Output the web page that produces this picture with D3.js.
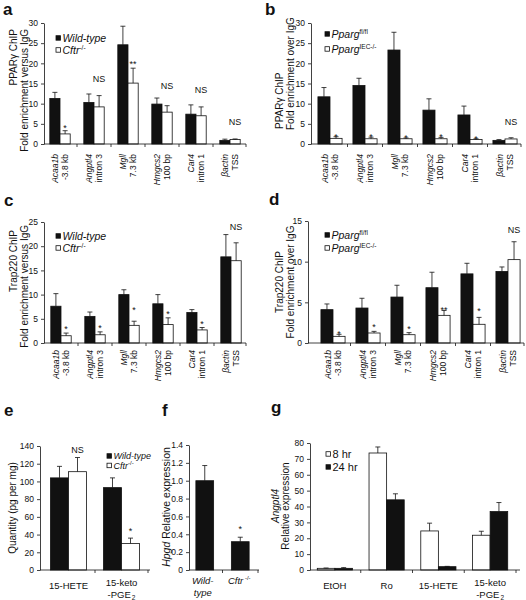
<!DOCTYPE html>
<html><head><meta charset="utf-8">
<script src="https://cdn.jsdelivr.net/npm/d3@7"></script>
<style>body{margin:0;background:#fff} svg{display:block}</style>
</head><body><svg id="fig" width="526" height="600"></svg>
<script>
// ---------------- data ----------------
const genes = ["Acaa1b","Angptl4","Mgll","Hmgcs2","Car4","βactin"];
const sites = ["-3.8 kb","intron 3","7.3 kb","100 bp","intron 1","TSS"];

const aTicks = [0,5,10,15,20,25,30];
const aWT = [11.3,10.3,24.6,9.9,7.4,0.9];
const aWTErr = [1.5,2.1,4.6,1.5,2.3,0.3];
const aKO = [2.5,9.2,15.1,7.9,7.0,1.1];
const aKOErr = [0.8,2.8,3.7,1.6,2.2,0.15];
const aSig = ["*","NS","**","NS","NS","NS"];
const aSigAt = [4.6,16.1,20.3,14.4,13.4,5.5];

const bTicks = [0,5,10,15,20,25,30];
const bFl = [11.7,14.5,23.3,8.4,7.2,0.9];
const bFlErr = [2.3,1.8,4.4,2.8,2.2,0.2];
const bIEC = [1.4,1.3,1.3,1.3,1.1,1.25];
const bIECErr = [0.4,0.4,0.2,0.35,0.2,0.3];
const bSig = ["*","*","*","*","*","NS"];
const bSigAt = [2.4,2.3,2.1,2.3,1.9,5.4];

const cTicks = [0,5,10,15,20,25];
const cWT = [7.6,5.5,10.0,8.1,6.3,17.8];
const cWTErr = [2.6,0.9,1.0,1.9,0.6,4.6];
const cKO = [1.5,1.7,3.65,3.8,2.7,17.0];
const cKOErr = [0.55,0.6,0.85,1.4,0.5,3.7];
const cSig = ["*","*","*","*","*","NS"];
const cSigAt = [3.3,3.5,7.2,6.4,4.5,24.0];

const dTicks = [0,5,10,15];
const dFl = [4.1,4.3,5.65,6.8,8.5,8.8];
const dFlErr = [0.7,1.2,1.45,1.9,1.3,0.55];
const dIEC = [0.82,1.23,1.02,3.4,2.3,10.25];
const dIECErr = [0.25,0.2,0.25,0.6,0.85,2.2];
const dSig = ["*","*","*","**","*","NS"];
const dSigAt = [1.4,2.2,2.0,4.4,4.2,13.9];

const eCats = ["15-HETE","15-keto"];
const eCats2 = ["","-PGE"];
const eTicks = [0,20,40,60,80,100,120,140];
const eWT = [104,93];
const eWTErr = [13,11];
const eKO = [111,30];
const eKOErr = [16,6];
const eSig = ["NS","*"];
const eSigAt = [135.4,46.3];

const fCats = ["Wild-","Cftr"];
const fCats2 = ["type",""];
const fTicks = [0,0.2,0.4,0.6,0.8,1.0,1.2,1.4];
const fVals = [1.0,0.317];
const fErr = [0.17,0.05];
const fSig = ["","*"];
const fSigAt = [0,0.485];

const gCats = ["EtOH","Ro","15-HETE","15-keto"];
const gCats2 = ["","","","-PGE"];
const gTicks = [0,10,20,30,40,50,60,70,80];
const g8 = [1.05,73.7,24.6,21.9];
const g8Err = [0.2,3.8,4.9,2.5];
const g24 = [1.05,44.2,2.1,36.8];
const g24Err = [0.45,3.8,0.2,5.7];

// ---------------- drawing ----------------
const F = '"Liberation Sans", Arial, Helvetica, sans-serif';
const svg = d3.select("#fig").attr("font-family", F);
const INK = "#111";
const axisJobs = [];

function panel(c) {
  const n = c.series[0].vals.length;
  const x = d3.scaleBand().domain(d3.range(n)).range([c.bandL, c.bandR]);
  const y = d3.scaleLinear().domain([0, c.max]).range([c.bottom, c.top]);
  const g = svg.append("g");
  const bw = x.bandwidth() * c.frac;
  const k = c.series.length;
  const barX = (i, si) => x(i) + x.bandwidth() / 2 - k * bw / 2 + si * bw;

  c.series.forEach((s, si) => {
    const data = s.vals.map((v, i) => ({v, e: s.errs[i], i}));
    g.append("g").selectAll("rect").data(data).join("rect")
      .attr("x", d => barX(d.i, si)).attr("y", d => y(d.v))
      .attr("width", bw).attr("height", d => y(0) - y(d.v))
      .attr("fill", s.fill).attr("stroke", INK).attr("stroke-width", 0.8);
    const eg = g.append("g").attr("stroke", INK).attr("stroke-width", 0.8);
    eg.selectAll("line.v").data(data).join("line").attr("class", "v")
      .attr("x1", d => barX(d.i, si) + bw / 2).attr("x2", d => barX(d.i, si) + bw / 2)
      .attr("y1", d => y(d.v)).attr("y2", d => y(d.v + d.e));
    eg.selectAll("line.c").data(data).join("line").attr("class", "c")
      .attr("x1", d => barX(d.i, si) + bw / 2 - 2.5).attr("x2", d => barX(d.i, si) + bw / 2 + 2.5)
      .attr("y1", d => y(d.v + d.e)).attr("y2", d => y(d.v + d.e));
  });

  g.append("line").attr("x1", c.axisX).attr("x2", c.axisEnd)
    .attr("y1", y(0)).attr("y2", y(0)).attr("stroke", INK).attr("stroke-width", 0.8);
  g.selectAll("line.xt").data(d3.range(n)).join("line").attr("class", "xt")
    .attr("x1", i => Math.min(x(i) + x.bandwidth(), c.axisEnd))
    .attr("x2", i => Math.min(x(i) + x.bandwidth(), c.axisEnd))
    .attr("y1", y(0)).attr("y2", y(0) + 3).attr("stroke", INK).attr("stroke-width", 0.8);

  if (c.sig) {
    const sd = c.sig.map((t, i) => ({t, i, v: c.sigAt[i]})).filter(d => d.t);
    g.selectAll("text.sig").data(sd).join("text").attr("class", "sig")
      .attr("x", d => barX(d.i, c.sigSeries) + bw / 2)
      .attr("y", d => y(d.v) + (d.t === "NS" ? 3.2 : 5.3))
      .attr("text-anchor", "middle").attr("font-size", 9).attr("fill", INK)
      .text(d => d.t);
  }
  axisJobs.push({y, c});
  return {x, y, bw, barX, n};
}

function drawYAxes() {
  axisJobs.forEach(({y, c}) => {
    const ya = svg.append("g").attr("class", "yaxis")
      .attr("transform", `translate(${c.axisX},0)`)
      .call(d3.axisLeft(y).tickValues(c.ticks).tickFormat(c.fmt || d3.format("d"))
        .tickSize(3).tickPadding(3).tickSizeOuter(0));
    ya.attr("font-family", F).attr("font-size", c.tickFs || 8.5);
    ya.selectAll("text").attr("font-size", c.tickFs || 8.5).attr("fill", INK);
    ya.selectAll("line,path").attr("stroke", INK).attr("stroke-width", 0.8);
  });
}

function geneLabels(p, top) {
  const cx = i => p.x(i) + p.x.bandwidth() / 2;
  svg.append("g").selectAll("text").data(genes).join("text")
    .attr("transform", (d, i) => `translate(${cx(i) - 2.5},${top}) rotate(-90)`)
    .attr("text-anchor", "end").attr("font-size", 8.5).attr("font-style", "italic").attr("fill", INK)
    .text(d => d);
  svg.append("g").selectAll("text").data(sites).join("text")
    .attr("transform", (d, i) => `translate(${cx(i) + 7.5},${top}) rotate(-90)`)
    .attr("text-anchor", "end").attr("font-size", 8.5).attr("fill", INK)
    .text(d => d);
}

function rich(t, parts) {
  parts.forEach(pp => {
    const ts = t.append("tspan").text(pp.t);
    if (pp.i) ts.attr("font-style", "italic");
    if (pp.s) ts.attr("font-size", pp.s);
    if (pp.dy) ts.attr("dy", pp.dy);
    if (pp.dx) ts.attr("dx", pp.dx);
  });
  return t;
}

function legend(x, y, items, fs, dy) {
  items.forEach((it, k) => {
    const cy = y + k * dy;
    svg.append("rect").attr("x", x).attr("y", cy - 2.3).attr("width", 4.5).attr("height", 4.5)
      .attr("fill", it.fill).attr("stroke", INK).attr("stroke-width", 0.8);
    rich(svg.append("text").attr("x", x + 6.5).attr("y", cy + fs * 0.36)
      .attr("font-size", fs).attr("fill", INK), it.parts);
  });
}

function ylab(x, y, anchor, parts, fs) {
  return rich(svg.append("text").attr("transform", `translate(${x},${y}) rotate(-90)`)
    .attr("text-anchor", anchor).attr("font-size", fs || 10).attr("fill", INK), parts);
}

function letter(x, y, t) {
  svg.append("text").attr("x", x).attr("y", y).attr("font-size", 17).attr("font-weight", "bold")
    .attr("fill", INK).text(t);
}

const black = "#111", white = "#fff";

// ---- a ----
const pa = panel({bandL: 43, bandR: 247, axisX: 44, axisEnd: 246, top: 23, bottom: 144, max: 30, ticks: aTicks,
  frac: 0.3, series: [{vals: aWT, errs: aWTErr, fill: black}, {vals: aKO, errs: aKOErr, fill: white}],
  sig: aSig, sigAt: aSigAt, sigSeries: 1});
geneLabels(pa, 154);
legend(56, 38, [{fill: black, parts: [{t: "Wild-type", i: 1}]},
  {fill: white, parts: [{t: "Cftr", i: 1}, {t: "-/-", s: 6.5, dy: -4}]}], 10.5, 12);
ylab(17, 29, "end", [{t: "PPARγ ChIP"}]);
ylab(28, 29, "end", [{t: "Fold enrichment versus IgG"}]);
letter(3, 15, "a");

// ---- b ----
const pb = panel({bandL: 312.5, bandR: 522.5, axisX: 311, axisEnd: 521, top: 23, bottom: 144, max: 30, ticks: bTicks,
  frac: 0.345, series: [{vals: bFl, errs: bFlErr, fill: black}, {vals: bIEC, errs: bIECErr, fill: white}],
  sig: bSig, sigAt: bSigAt, sigSeries: 1});
geneLabels(pb, 154);
legend(325, 34, [{fill: black, parts: [{t: "Pparg", i: 1}, {t: "fl/fl", s: 6.5, dy: -4}]},
  {fill: white, parts: [{t: "Pparg", i: 1}, {t: "IEC-/-", s: 6.5, dy: -4}]}], 10.5, 15);
ylab(283, 129, "start", [{t: "PPARγ ChIP"}]);
ylab(294, 130, "start", [{t: "Fold enrichment over IgG"}]);
letter(265, 15, "b");

// ---- c ----
const pc = panel({bandL: 44, bandR: 248, axisX: 44, axisEnd: 246, top: 222, bottom: 343, max: 25, ticks: cTicks,
  frac: 0.3, series: [{vals: cWT, errs: cWTErr, fill: black}, {vals: cKO, errs: cKOErr, fill: white}],
  sig: cSig, sigAt: cSigAt, sigSeries: 1});
geneLabels(pc, 350);
legend(56, 236, [{fill: black, parts: [{t: "Wild-type", i: 1}]},
  {fill: white, parts: [{t: "Cftr", i: 1}, {t: "-/-", s: 6.5, dy: -4}]}], 10.5, 12);
ylab(17, 230, "end", [{t: "Trap220 ChIP"}]);
ylab(28, 225, "end", [{t: "Fold enrichment versus IgG"}]);
letter(4, 206, "c");

// ---- d ----
const pd = panel({bandL: 315.5, bandR: 525.5, axisX: 308, axisEnd: 524, top: 221, bottom: 343, max: 15, ticks: dTicks,
  frac: 0.345, series: [{vals: dFl, errs: dFlErr, fill: black}, {vals: dIEC, errs: dIECErr, fill: white}],
  sig: dSig, sigAt: dSigAt, sigSeries: 1});
geneLabels(pd, 350);
legend(325, 235, [{fill: black, parts: [{t: "Pparg", i: 1}, {t: "fl/fl", s: 6.5, dy: -4}]},
  {fill: white, parts: [{t: "Pparg", i: 1}, {t: "IEC-/-", s: 6.5, dy: -4}]}], 10.5, 13);
ylab(283, 282, "middle", [{t: "Trap220 ChIP"}]);
ylab(294, 282, "middle", [{t: "Fold enrichment over IgG"}]);
letter(269, 205, "d");

// ---- e ----
const pe = panel({bandL: 42, bandR: 148, axisX: 40, axisEnd: 150, top: 446, bottom: 570, max: 140, ticks: eTicks,
  frac: 0.34, series: [{vals: eWT, errs: eWTErr, fill: black}, {vals: eKO, errs: eKOErr, fill: white}],
  sig: eSig, sigAt: eSigAt, sigSeries: 1, tickFs: 8.5});
{
  const cx = i => pe.x(i) + pe.x.bandwidth() / 2;
  svg.append("text").attr("x", cx(0)).attr("y", 589).attr("text-anchor", "middle").attr("font-size", 9.5).attr("fill", INK).text(eCats[0]);
  svg.append("text").attr("x", cx(1)).attr("y", 585.5).attr("text-anchor", "middle").attr("font-size", 9.5).attr("fill", INK).text(eCats[1]);
  rich(svg.append("text").attr("x", cx(1)).attr("y", 597.5).attr("text-anchor", "middle").attr("font-size", 9.5).attr("fill", INK),
    [{t: eCats2[1]}, {t: "2", s: 6.5, dy: 2, dx: 1}]);
}
legend(107, 456, [{fill: black, parts: [{t: "Wild-type", i: 1}]},
  {fill: white, parts: [{t: "Cftr", i: 1}, {t: "-/-", s: 6, dy: -3.5}]}], 9, 9.5);
ylab(16, 508, "middle", [{t: "Quantity (pg per mg)"}]);
letter(4, 416, "e");

// ---- f ----
const pf = panel({bandL: 187, bandR: 258, axisX: 189, axisEnd: 259, top: 445, bottom: 570, max: 1.4, ticks: fTicks,
  fmt: d => d === 0 ? "0" : d3.format(".1f")(d),
  frac: 0.5, series: [{vals: fVals, errs: fErr, fill: black}],
  sig: fSig, sigAt: fSigAt, sigSeries: 0, tickFs: 8.5});
{
  const cx = i => pf.x(i) + pf.x.bandwidth() / 2;
  svg.append("text").attr("x", cx(0) - 2).attr("y", 584).attr("text-anchor", "middle").attr("font-size", 9.5)
    .attr("font-style", "italic").attr("fill", INK).text(fCats[0]);
  svg.append("text").attr("x", cx(0) - 2).attr("y", 596).attr("text-anchor", "middle").attr("font-size", 9.5)
    .attr("font-style", "italic").attr("fill", INK).text(fCats2[0]);
  rich(svg.append("text").attr("x", cx(1) - 1).attr("y", 584).attr("text-anchor", "middle").attr("font-size", 9.5).attr("fill", INK),
    [{t: fCats[1], i: 1}, {t: " -/-", s: 6, dy: -4}]);
}
ylab(170, 507, "middle", [{t: "Hpgd", i: 1}, {t: " Relative expression"}], 10.5);
letter(162, 416, "f");

// ---- g ----
const pg = panel({bandL: 309, bandR: 516, axisX: 310, axisEnd: 520, top: 443, bottom: 570, max: 80, ticks: gTicks,
  frac: 0.34, series: [{vals: g8, errs: g8Err, fill: white}, {vals: g24, errs: g24Err, fill: black}],
  tickFs: 8.5});
{
  const cx = i => pg.x(i) + pg.x.bandwidth() / 2;
  gCats.forEach((t, i) => {
    const two = gCats2[i] !== "";
    svg.append("text").attr("x", cx(i)).attr("y", two ? 585.5 : 589).attr("text-anchor", "middle")
      .attr("font-size", 9.5).attr("fill", INK).text(t);
    if (two) rich(svg.append("text").attr("x", cx(i)).attr("y", 597.5).attr("text-anchor", "middle")
      .attr("font-size", 9.5).attr("fill", INK), [{t: gCats2[i]}, {t: "2", s: 6.5, dy: 2, dx: 1}]);
  });
}
legend(326, 454, [{fill: white, parts: [{t: "8 hr"}]}, {fill: black, parts: [{t: "24 hr"}]}], 11, 13);
ylab(279, 506, "middle", [{t: "Angptl4", i: 1}]);
ylab(289, 506, "middle", [{t: "Relative expression"}]);
letter(271, 413, "g");

drawYAxes();
</script></body></html>
